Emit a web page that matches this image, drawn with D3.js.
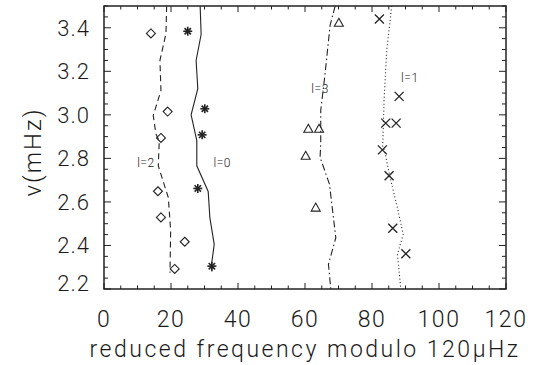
<!DOCTYPE html>
<html>
<head>
<meta charset="utf-8">
<script src="https://cdn.jsdelivr.net/npm/d3@7"></script>
<style>
  body { margin: 0; background: #fff; }
  text { font-family: Roboto, "DejaVu Sans", sans-serif; font-weight: 300; fill: #1a1a1a; }
</style>
</head>
<body>
<div id="chart-container"></div>
<script>
// observed modes: [reduced freq (uHz), nu (mHz)]
const obsL0 = [[25.0, 3.384], [30.1, 3.028], [29.3, 2.908], [28.0, 2.662], [32.2, 2.305]];
const obsL2 = [[14.0, 3.374], [19.0, 3.015], [17.0, 2.894], [16.1, 2.649], [17.0, 2.529], [24.1, 2.417], [21.1, 2.292]];
const obsL3 = [[70.1, 3.423], [61.0, 2.936], [64.2, 2.936], [60.2, 2.812], [63.2, 2.574]];
const obsL1 = [[82.2, 3.440], [88.1, 3.085], [84.1, 2.962], [87.2, 2.962], [83.1, 2.839], [85.1, 2.720], [86.2, 2.479], [90.1, 2.362]];

// model ridges
const modL0 = [[28.7, 3.5], [29.0, 3.37], [27.5, 3.25], [28.0, 3.12], [26.0, 3.0], [27.7, 2.882], [27.7, 2.766], [31.1, 2.648], [31.6, 2.528], [32.9, 2.405], [32.1, 2.313], [32.2, 2.28]];
const modL2 = [[18.7, 3.5], [18.5, 3.374], [16.7, 3.25], [17.0, 3.112], [14.7, 2.997], [15.5, 2.912], [16.5, 2.88], [16.2, 2.766], [19.2, 2.62], [19.9, 2.466], [19.7, 2.275]];
const modL3 = [[69.0, 3.5], [67.5, 3.412], [66.0, 3.19], [64.7, 3.02], [64.7, 2.866], [64.5, 2.805], [67.3, 2.682], [69.2, 2.435], [67.0, 2.313], [67.7, 2.2]];
const modL1 = [[85.9, 3.5], [84.4, 3.297], [83.6, 3.066], [83.2, 2.851], [83.7, 2.84], [85.4, 2.712], [87.8, 2.559], [89.3, 2.451], [87.6, 2.359], [88.6, 2.2]];

const xTicks = [0, 20, 40, 60, 80, 100, 120];
const yTicks = [2.2, 2.4, 2.6, 2.8, 3.0, 3.2, 3.4];
const ridgeLabels = [["l=2", 12.5, 2.78], ["l=0", 35.3, 2.78], ["l=3", 64.5, 3.12], ["l=1", 91.3, 3.17]];

const width = 544, height = 365;
const margin = {left: 104, right: 38, top: 6, bottom: 76};
const w = width - margin.left - margin.right;
const h = height - margin.top - margin.bottom;

const svg = d3.select("#chart-container").append("svg")
  .attr("width", width).attr("height", height);
const g = svg.append("g").attr("transform", `translate(${margin.left},${margin.top})`);

const x = d3.scaleLinear().domain([0, 120]).range([0, w]);
const y = d3.scaleLinear().domain([2.2, 3.5]).range([h, 0]);

const ink = "#222";

// ticks pointing inward on all four sides
const xMinor = d3.range(0, 120.01, 5);
const yMinor = d3.range(2.2, 3.501, 0.05);
function isMajorX(v) { return Math.abs(v / 20 - Math.round(v / 20)) < 1e-6; }
function isMajorY(v) { return Math.abs(v / 0.2 - Math.round(v / 0.2)) < 1e-6; }

xMinor.forEach(v => {
  const len = isMajorX(v) ? 6 : 3.5;
  g.append("line").attr("x1", x(v)).attr("x2", x(v)).attr("y1", h).attr("y2", h - len)
    .attr("stroke", ink).attr("stroke-width", 1);
  g.append("line").attr("x1", x(v)).attr("x2", x(v)).attr("y1", 0).attr("y2", len)
    .attr("stroke", ink).attr("stroke-width", 1);
});
yMinor.forEach(v => {
  const len = isMajorY(v) ? 7 : 4;
  g.append("line").attr("y1", y(v)).attr("y2", y(v)).attr("x1", 0).attr("x2", len)
    .attr("stroke", ink).attr("stroke-width", 1);
  g.append("line").attr("y1", y(v)).attr("y2", y(v)).attr("x1", w).attr("x2", w - len)
    .attr("stroke", ink).attr("stroke-width", 1);
});

// frame
g.append("rect").attr("width", w).attr("height", h)
  .attr("fill", "none").attr("stroke", ink).attr("stroke-width", 1.5);

// tick labels
g.selectAll(".xlab").data(xTicks).enter().append("text")
  .attr("x", d => x(d)).attr("y", h + 38)
  .attr("text-anchor", "middle").style("font-size", "23px").style("letter-spacing", "1.5px")
  .text(d => d);
g.selectAll(".ylab").data(yTicks).enter().append("text")
  .attr("x", -14).attr("y", d => y(d) + 8 - (d === 2.2 ? 6 : 0))
  .attr("text-anchor", "end").style("font-size", "22px").style("letter-spacing", "1px")
  .text(d => d.toFixed(1));

// axis titles
svg.append("text").attr("x", 305).attr("y", 357)
  .attr("text-anchor", "middle").style("font-size", "23px").style("letter-spacing", "2.5px")
  .text("reduced frequency modulo 120\u03bcHz");
svg.append("text").attr("transform", "translate(41,152) rotate(-90)")
  .attr("text-anchor", "middle").style("font-size", "24px").style("letter-spacing", "2px")
  .text("\u03bd(mHz)");

// model lines
const line = d3.line().x(d => x(d[0])).y(d => y(d[1]));
const models = [[modL0, null], [modL2, "6,4"], [modL3, "7,3,1.5,3"], [modL1, "1,2.5"]];
models.forEach(([data, dash]) => {
  g.append("path").datum(data).attr("d", line)
    .attr("fill", "none").attr("stroke", ink).attr("stroke-width", 1.1)
    .attr("stroke-dasharray", dash);
});

// symbols
function asterisk(sel) {
  const r = 4.5;
  [0, 45, 90, 135].forEach(a => {
    sel.append("line").attr("x1", -r).attr("x2", r).attr("y1", 0).attr("y2", 0)
      .attr("transform", `rotate(${a})`).attr("stroke", ink).attr("stroke-width", 1.6);
  });
}
function diamond(sel) {
  sel.append("path").attr("d", "M0,-4.5L4.5,0L0,4.5L-4.5,0Z")
    .attr("fill", "none").attr("stroke", ink).attr("stroke-width", 1.1);
}
function triangle(sel) {
  sel.append("path").attr("d", "M0,-4.5L4.5,3.5L-4.5,3.5Z")
    .attr("fill", "none").attr("stroke", ink).attr("stroke-width", 1.1);
}
function cross(sel) {
  sel.append("path").attr("d", "M-4.5,-4.5L4.5,4.5M-4.5,4.5L4.5,-4.5")
    .attr("fill", "none").attr("stroke", ink).attr("stroke-width", 1.3);
}
[[obsL0, asterisk], [obsL2, diamond], [obsL3, triangle], [obsL1, cross]].forEach(([data, sym]) => {
  g.selectAll(null).data(data).enter().append("g")
    .attr("transform", d => `translate(${x(d[0])},${y(d[1])})`)
    .each(function() { sym(d3.select(this)); });
});

// ridge labels
g.selectAll(".rl").data(ridgeLabels).enter().append("text")
  .attr("x", d => x(d[1])).attr("y", d => y(d[2]) + 4)
  .attr("text-anchor", "middle").style("font-size", "12px").style("letter-spacing", "0.5px")
  .text(d => d[0]);
</script>
</body>
</html>
